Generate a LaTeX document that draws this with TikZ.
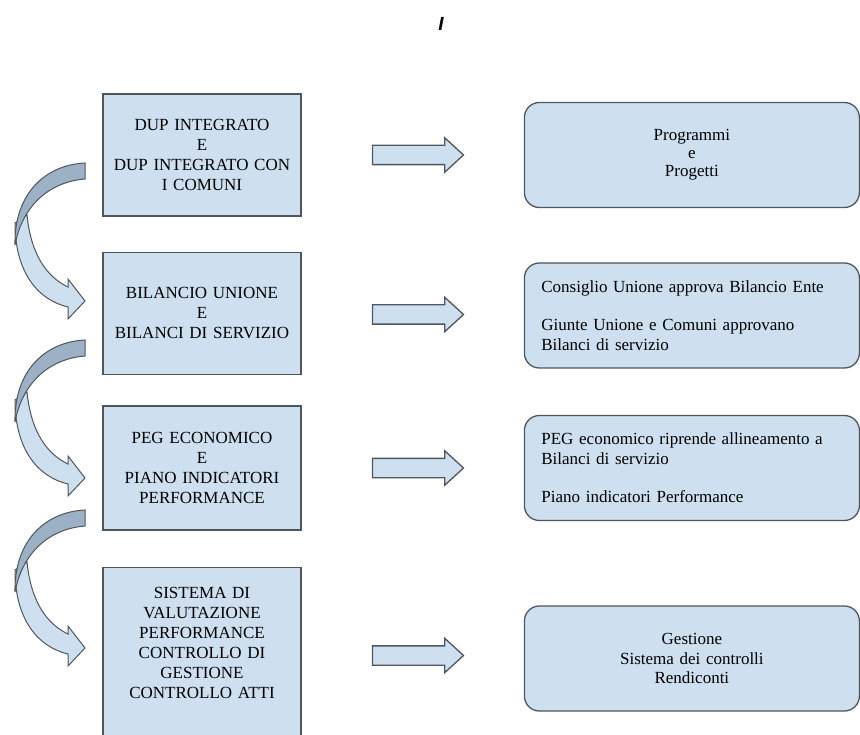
\documentclass[tikz,border=0pt]{standalone}
\usepackage{fontspec}
\setmainfont{Liberation Serif}
\setsansfont{Liberation Sans}
\usetikzlibrary{shapes.arrows, positioning, calc}
\definecolor{azzurro}{RGB}{206,223,240}
\definecolor{ombra}{RGB}{156,176,198}
\definecolor{bordo}{RGB}{80,86,94}
\tikzstyle{fase} = [rectangle, minimum width=198pt, text width=190pt, align=center, draw=bordo, line width=1.5pt, fill=azzurro, font=\fontsize{17}{20}\selectfont]
\tikzstyle{esito} = [rectangle, rounded corners=15pt, minimum width=335pt, minimum height=105pt, text width=301pt, draw=bordo, line width=1.3pt, fill=azzurro, font=\fontsize{17}{19.3}\selectfont]
\tikzstyle{freccia} = [single arrow, draw=bordo, line width=1.3pt, fill=azzurro, minimum height=91pt, inner sep=9pt, single arrow head extend=7.5pt, single arrow tip angle=85]
\tikzset{curva/.pic={
  \draw[bordo, line width=1pt, fill=azzurro] (15,60) .. controls (15,106) and (35,136) .. (68,144) -- (68,156) -- (85,138) -- (68,116) -- (68,124) .. controls (47,114) and (31,92) .. (27,52) -- cycle;
  \draw[bordo, line width=1pt, fill=ombra] (85,0) .. controls (44,2) and (14,32) .. (15,82) .. controls (22,44) and (48,19) .. (85,16) -- cycle;
}}

\begin{document}
\begin{tikzpicture}[x=1pt, y=-1pt]
        \useasboundingbox (0,0) rectangle (860,735);
        \node (segno) at (441,24) {\fontsize{19}{19}\sffamily\bfseries\itshape I};

        \node[fase, minimum height=122pt] (dup) at (202,155) {DUP INTEGRATO\\E\\DUP INTEGRATO CON\\I COMUNI};
        \node[fase, minimum height=122pt, below=35pt of dup] (bil) {BILANCIO UNIONE\\E\\BILANCI DI SERVIZIO};
        \node[fase, minimum height=124pt, below=30pt of bil] (peg) {PEG ECONOMICO\\E\\PIANO INDICATORI\\PERFORMANCE};
        \node[fase, minimum height=170pt, text depth=120pt, below=36pt of peg] (siv) {SISTEMA DI\\VALUTAZIONE\\PERFORMANCE\\CONTROLLO DI\\GESTIONE\\CONTROLLO ATTI};

        \node[esito, align=center, font=\fontsize{17}{18}\selectfont, right=222pt of dup] (prog) {Programmi\\e\\Progetti};
        \node[esito, align=left, right=222pt of bil, yshift=-2pt] (cons) {Consiglio Unione approva Bilancio Ente\\[19.3pt]Giunte Unione e Comuni approvano\\Bilanci di servizio};
        \node[esito, align=left, right=222pt of peg] (pegr) {PEG economico riprende allineamento a\\Bilanci di servizio\\[19.3pt]Piano indicatori Performance};
        \node[esito, align=center, right=222pt of siv, yshift=-6pt] (gest) {Gestione\\Sistema dei controlli\\Rendiconti};

        \node[freccia] (f1) at ($(dup.east)!0.5!(prog.west)$) {};
        \node[freccia] (f2) at ($(bil.east)!0.5!(cons.west)$) {};
        \node[freccia] (f3) at ($(peg.east)!0.5!(pegr.west)$) {};
        \node[freccia] (f4) at ($(siv.east)!0.5!(gest.west)$) {};

        \pic at (0,163) {curva};
        \pic at (0,340) {curva};
        \pic at (0,510) {curva};
    \end{tikzpicture}
\end{document}
